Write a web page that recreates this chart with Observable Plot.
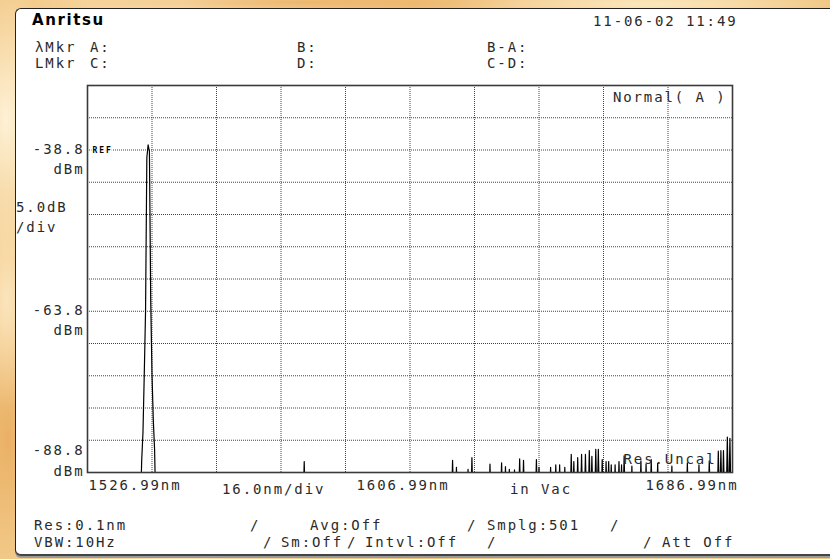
<!DOCTYPE html>
<html>
<head>
<meta charset="utf-8">
<script src="https://cdn.jsdelivr.net/npm/d3@7"></script>
<script src="https://cdn.jsdelivr.net/npm/@observablehq/plot@0.6"></script>
<style>
  html, body { margin: 0; padding: 0; }
  body {
    width: 830px; height: 559px; position: relative; overflow: hidden;
    background:
      radial-gradient(ellipse 50px 140px at 6px 120px, rgba(255,246,222,0.9), rgba(255,246,222,0)),
      radial-gradient(ellipse 30px 110px at 6px 300px, rgba(255,240,210,0.7), rgba(255,240,210,0)),
      radial-gradient(ellipse 40px 120px at 8px 440px, rgba(228,160,78,0.6), rgba(228,160,78,0)),
      radial-gradient(ellipse 220px 12px at 300px 2px, rgba(232,168,88,0.6), rgba(232,168,88,0)),
      radial-gradient(ellipse 200px 12px at 650px 4px, rgba(252,234,196,0.8), rgba(252,234,196,0)),
      linear-gradient(90deg, #f2c886 0%, #f8deae 22%, #efc07a 50%, #f6d7a0 78%, #f0c582 100%);
  }
  #panel {
    position: absolute; left: 15px; top: 8px; right: -10px; bottom: 3px;
    background: #fff;
    border-top: 1px solid #222; border-left: 1px solid #222;
    border-bottom: 2px solid #444;
    border-radius: 6px 0 0 6px;
    box-shadow: 0 2px 0 #9a9a9a;
  }
  #chart { position: absolute; left: 0; top: 0; }
  .lbl {
    position: absolute; white-space: pre;
    font-family: "DejaVu Sans Mono", monospace; font-size: 14px;
    letter-spacing: 1.9px; line-height: 16px; color: #2a2a2a;
  }
  .logo {
    font-family: "DejaVu Sans", sans-serif; font-weight: bold;
    font-size: 15px; letter-spacing: 1.6px; color: #000;
  }
</style>
</head>
<body>
<div id="panel"></div>
<div id="chart"></div>
<script>
// Sweep settings
const startWavelength = 1526.99;
const centerWavelength = 1606.99;
const stopWavelength = 1686.99;
const samplingPoints = 501;
const bottomLevel = -88.8;
const topLevel = -28.8;
const refLevel = -38.8;

// Level labels and graticule
const levelLabels = [-38.8, -63.8, -88.8];
const gridWavelengths = [1542.99, 1558.99, 1574.99, 1590.99, 1606.99, 1622.99, 1638.99, 1654.99, 1670.99];
const gridLevels = [-83.8, -78.8, -73.8, -68.8, -63.8, -58.8, -53.8, -48.8, -43.8, -38.8, -33.8];

// Laser line around 1542 nm (dBm)
const peakWavelengths = [1540.43, 1540.75, 1541.07, 1541.39, 1541.71, 1542.03, 1542.35, 1542.67, 1542.99, 1543.31, 1543.63];
const peakLevels = [-87.0, -82.6, -73.6, -63.8, -40.0, -38.0, -39.0, -62.0, -73.6, -80.6, -85.2];

// Noise spurs that rise above the display floor (dBm)
const spurWavelengths = [
  1580.75, 1617.55, 1618.51, 1621.39, 1622.35, 1626.83, 1629.71, 1630.67, 1631.63, 1632.91,
  1634.19, 1635.15, 1638.35, 1638.99, 1641.87, 1643.15, 1644.11, 1645.39, 1646.99, 1647.63,
  1648.59, 1649.55, 1650.51, 1651.47, 1652.11, 1653.07, 1653.71, 1654.67, 1655.63, 1656.27,
  1656.91, 1657.87, 1658.83, 1659.47, 1660.11, 1662.03, 1664.27, 1665.55, 1666.83, 1668.43,
  1671.95, 1675.79, 1678.67, 1681.23, 1683.47, 1684.11, 1684.75, 1685.71, 1686.35
];
const spurLevels = [
  -87.1, -86.9, -88.0, -88.3, -86.5, -87.5, -87.3, -87.9, -88.3, -88.4,
  -86.7, -86.9, -86.8, -88.0, -88.0, -87.6, -87.6, -88.0, -86.0, -87.1,
  -86.5, -86.0, -86.0, -85.4, -86.3, -85.2, -85.2, -86.8, -87.1, -87.1,
  -87.6, -87.6, -87.1, -87.6, -86.2, -87.8, -87.0, -87.5, -86.8, -87.4,
  -87.8, -87.3, -87.6, -87.0, -85.5, -85.4, -85.4, -83.3, -83.5
];
const noiseFloor = -95; // below the bottom of the screen

// Place readings on the sampling grid; every other sample sits at the floor
const step = (stopWavelength - startWavelength) / (samplingPoints - 1);
const levelAt = new Map();
const addReadings = (ws, ls) => ws.forEach((w, i) => levelAt.set(Math.round((w - startWavelength) / step), ls[i]));
addReadings(peakWavelengths, peakLevels);
addReadings(spurWavelengths, spurLevels);
const trace = d3.range(samplingPoints).map(i => ({
  wavelength: startWavelength + i * step,
  level: levelAt.has(i) ? levelAt.get(i) : noiseFloor
}));

const W = 830, H = 559;
const chart = Plot.plot({
  width: W, height: H,
  marginLeft: 87, marginRight: 98, marginTop: 85, marginBottom: 87,
  x: { domain: [startWavelength, stopWavelength], axis: null },
  y: { domain: [bottomLevel, topLevel], axis: null },
  style: {
    background: "transparent", color: "#2a2a2a",
    fontFamily: "DejaVu Sans Mono, monospace", fontSize: "14px", letterSpacing: "1.9px"
  },
  marks: [
    Plot.ruleX(gridWavelengths, { stroke: "#444", strokeWidth: 1, strokeDasharray: "1,1" }),
    Plot.ruleY(gridLevels, { stroke: "#444", strokeWidth: 1, strokeDasharray: "1,1" }),
    Plot.line(trace, { x: "wavelength", y: "level", stroke: "#000", strokeWidth: 1.2, clip: true }),
    Plot.frame({ stroke: "#3a3a3a", strokeWidth: 1.6 }),
    // REF marker on the reference-level line
    Plot.text([refLevel], {
      y: d => d, frameAnchor: "left", textAnchor: "start", dx: 5, dy: 0.5,
      text: () => "REF", fontSize: 8, fontWeight: "bold",
      stroke: "white", strokeWidth: 3, fill: "#000"
    }),
    // Level labels: value above unit
    Plot.text(levelLabels, {
      filter: d => d > bottomLevel,
      y: d => d, frameAnchor: "left", textAnchor: "end", dx: -3,
      lineAnchor: "top", lineHeight: 1.43, dy: -10.5,
      text: d => d.toFixed(1) + "\n dBm"
    }),
    Plot.text(levelLabels, {
      filter: d => d === bottomLevel,
      y: d => d, frameAnchor: "left", textAnchor: "end", dx: -3,
      lineAnchor: "bottom", lineHeight: 1.43, dy: 3,
      text: d => d.toFixed(1) + "\n dBm"
    }),
    // Wavelength labels under the screen
    Plot.text([startWavelength], {
      x: d => d, frameAnchor: "bottom", textAnchor: "start", dy: 17, dx: 1,
      text: d => d.toFixed(2) + "nm"
    }),
    Plot.text([centerWavelength], {
      x: d => d, frameAnchor: "bottom", textAnchor: "middle", dy: 17, dx: -7,
      text: d => d.toFixed(2) + "nm"
    }),
    Plot.text([stopWavelength], {
      x: d => d, frameAnchor: "bottom", textAnchor: "end", dy: 17, dx: 6,
      text: d => d.toFixed(2) + "nm"
    }),
    // Trace mode and resolution warning
    Plot.text(["Normal( A )"], {
      frameAnchor: "top-right", textAnchor: "end", lineAnchor: "top", dx: -6, dy: 7,
      text: d => d
    }),
    Plot.text(["Res.Uncal"], {
      frameAnchor: "bottom-right", textAnchor: "end", lineAnchor: "bottom", dx: -16, dy: -9,
      text: d => d
    })
  ]
});
document.getElementById("chart").appendChild(chart);

// Instrument status text
function put(text, x, cy, cls) {
  const el = document.createElement("div");
  el.className = "lbl" + (cls ? " " + cls : "");
  el.textContent = text;
  el.style.left = x + "px";
  el.style.top = (cy - 8) + "px";
  document.body.appendChild(el);
}
put("Anritsu", 32, 20, "logo");
put("11-06-02 11:49", 593, 21);
put("λMkr", 35, 47); put("A:", 90, 47); put("B:", 297, 47); put("B-A:", 487, 47);
put("LMkr", 35, 63); put("C:", 90, 63); put("D:", 297, 63); put("C-D:", 487, 63);
put("5.0dB", 16, 207); put("/div", 16, 227);
put("16.0nm/div", 222, 489); put("in Vac", 510, 489);
put("Res:0.1nm", 34, 525); put("/", 250, 525); put("Avg:Off", 310, 525);
put("/", 467, 525); put("Smplg:501", 487, 525); put("/", 610, 525);
put("VBW:10Hz", 34, 542); put("/", 263, 542); put("Sm:Off", 281, 542);
put("/", 347, 542); put("Intvl:Off", 365, 542); put("/", 487, 542);
put("/", 643, 542); put("Att Off", 662, 542);
</script>
</body>
</html>
